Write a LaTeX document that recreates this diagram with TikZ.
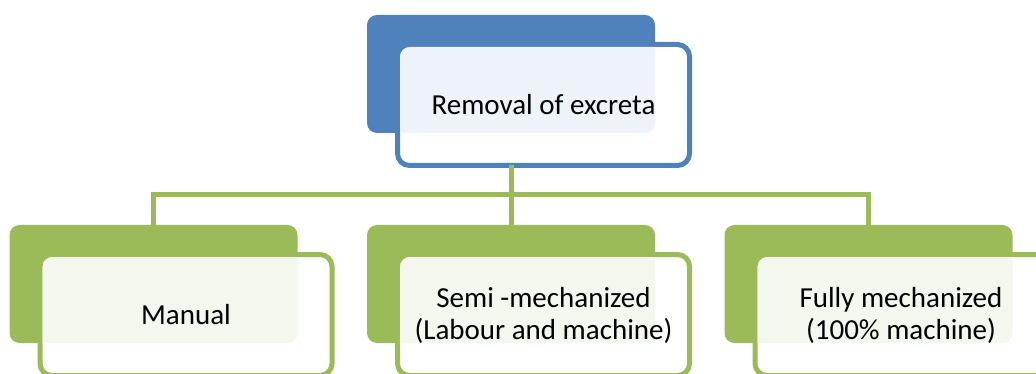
\documentclass[tikz,border=0pt]{standalone}
\usepackage{fontspec}
\setmainfont{Carlito}
\definecolor{rootblue}{HTML}{4F81BD}
\definecolor{rootpale}{HTML}{EEF2F9}
\definecolor{leafgreen}{HTML}{9BBB59}
\definecolor{leafpale}{HTML}{F4F7EE}

\begin{document}
\begin{tikzpicture}[x=1pt,y=-1pt,
    backbox/.style={rounded corners=10pt, minimum width=288pt, minimum height=118pt, inner sep=0pt, outer sep=0pt},
    frontbox/.style={rounded corners=12pt, line width=5pt, fill=white, minimum width=292pt, minimum height=121pt, inner sep=0pt, outer sep=0pt},
    boxtext/.style={font=\fontsize{29}{32}\selectfont, align=center},
    link/.style={line width=5pt, leafgreen}]
\useasboundingbox (0,0) rectangle (1036,374);
% top box
\node[backbox, fill=rootblue] (rootb) at (511,74) {};
\node[frontbox, draw=rootblue] (rootf) at ([xshift=32.5pt,yshift=-31pt]rootb.center) {};
\begin{scope}
    \clip[rounded corners=10pt] (rootb.north west) rectangle (rootb.south east);
    \fill[rootpale, rounded corners=10pt] ([shift={(2.5pt,-2.5pt)}]rootf.north west) rectangle ([shift={(-2.5pt,2.5pt)}]rootf.south east);
\end{scope}
\node[boxtext] (roottext) at (rootf) {Removal of excreta};
% three kinds
\foreach \name/\x/\txt in {man/153.5/Manual, semi/511/{Semi -mechanized\\(Labour and machine)}, full/868.5/{Fully mechanized\\(100\% machine)}} {
    \node[backbox, fill=leafgreen] (\name b) at (\x,284) {};
    \node[frontbox, draw=leafgreen] (\name f) at ([xshift=32.5pt,yshift=-31pt]\name b.center) {};
    \begin{scope}
        \clip[rounded corners=10pt] (\name b.north west) rectangle (\name b.south east);
        \fill[leafpale, rounded corners=10pt] ([shift={(2.5pt,-2.5pt)}]\name f.north west) rectangle ([shift={(-2.5pt,2.5pt)}]\name f.south east);
    \end{scope}
    \node[boxtext] (\name text) at (\name f) {\txt};
}
% connectors
\coordinate (bus) at (511,195);
\draw[link] (rootb.south |- rootf.south) -- (semib.north);
\draw[link] (manb.north) |- (bus) -| (fullb.north);
\end{tikzpicture}
\end{document}
